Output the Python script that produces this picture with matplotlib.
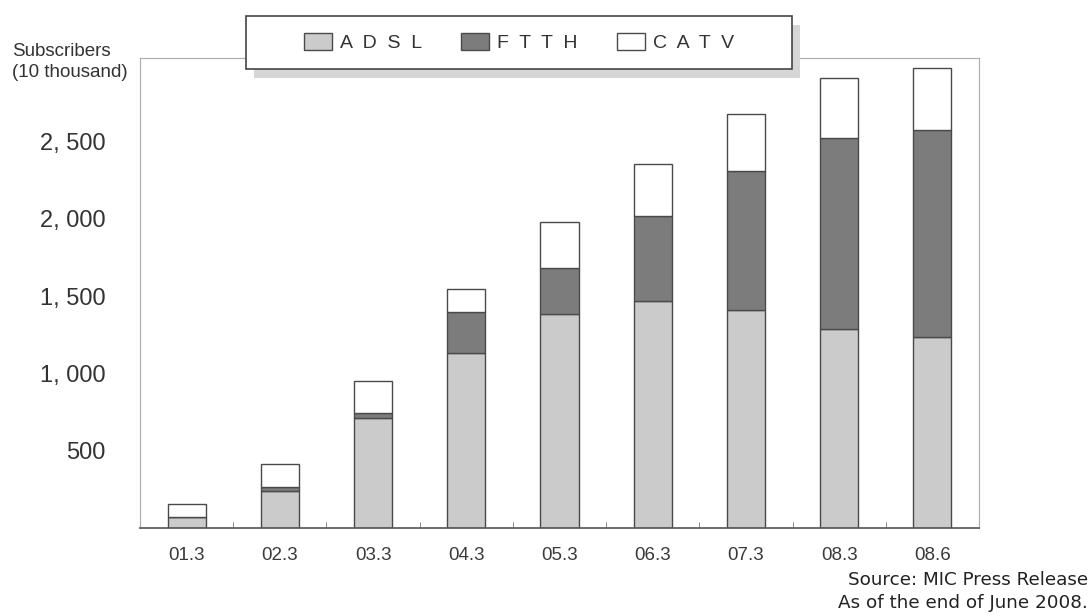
import numpy as np
import matplotlib.pyplot as plt
from matplotlib.patches import Patch, Rectangle
from matplotlib.ticker import FixedLocator, FuncFormatter

# subscribers in units of 10 thousand
periods = ['01.3', '02.3', '03.3', '04.3', '05.3', '06.3', '07.3', '08.3', '08.6']
adsl = [71, 239, 712, 1133, 1385, 1469, 1411, 1288, 1236]
ftth = [0, 26, 32, 265, 298, 550, 900, 1236, 1340]
catv = [84, 149, 207, 149, 298, 337, 369, 389, 401]
yticks = [500, 1000, 1500, 2000, 2500]

W, H = 1091, 616
fig = plt.figure(figsize=(W / 100, H / 100), dpi=100)
ax = fig.add_axes([140 / W, 1 - 528 / H, (979 - 140) / W, (528 - 58) / H])

x = np.arange(len(periods))
adsl_a = np.array(adsl)
ftth_a = np.array(ftth)
width = 0.41
edge = '#4a4a4a'
ax.bar(x, adsl_a, width, color='#cbcbcb', edgecolor=edge, linewidth=1)
ax.bar(x, ftth_a, width, bottom=adsl_a, color='#7c7c7c', edgecolor=edge, linewidth=1)
ax.bar(x, catv, width, bottom=adsl_a + ftth_a, color='white', edgecolor=edge, linewidth=1)

ax.set_xlim(-0.5, len(periods) - 0.5)
ax.set_ylim(0, 3040)

# x axis: labels at bar centres, small inward ticks between categories
ax.set_xticks(x)
ax.set_xticklabels(periods, fontsize=13.5, color='#3a3a3a', family=['Liberation Sans', 'DejaVu Sans'])
ax.xaxis.set_minor_locator(FixedLocator(np.arange(0.5, len(periods) - 0.5, 1)))
ax.tick_params(axis='x', which='major', length=0, pad=14)
ax.tick_params(axis='x', which='minor', direction='in', length=4, color='#777777')

# y axis: labels only, "2, 500" style
ax.yaxis.set_major_locator(FixedLocator(yticks))
ax.yaxis.set_major_formatter(FuncFormatter(lambda v, p: f'{int(v):,}'.replace(',', ', ')))
ax.tick_params(axis='y', length=0, pad=25, labelsize=17, labelcolor='#333333')
for lab in ax.get_yticklabels():
    lab.set_family(['Liberation Sans', 'DejaVu Sans'])

for side in ['left', 'top', 'right']:
    ax.spines[side].set_color('#b0b0b0')
    ax.spines[side].set_linewidth(0.9)
ax.spines['bottom'].set_color('#555555')
ax.spines['bottom'].set_linewidth(1.2)

fig.text(12 / W, 1 - 62 / H, 'Subscribers\n(10 thousand)', fontsize=13.5, color='#333333',
         family=['Liberation Sans', 'DejaVu Sans'], ha='left', va='center', linespacing=1.3)

# legend box with a soft drop shadow
bx0, by0, bx1, by1 = 246, 16, 792, 69
fig.add_artist(Rectangle(((bx0 + 8) / W, 1 - (by1 + 9) / H), (bx1 - bx0) / W, (by1 - by0) / H,
                         transform=fig.transFigure, facecolor='#d6d6d6', edgecolor='none', zorder=3))
fig.add_artist(Rectangle((bx0 / W, 1 - by1 / H), (bx1 - bx0) / W, (by1 - by0) / H,
                         transform=fig.transFigure, facecolor='white', edgecolor='#444444',
                         linewidth=1.2, zorder=4))
handles = [Patch(facecolor='#cbcbcb', edgecolor=edge),
           Patch(facecolor='#7c7c7c', edgecolor=edge),
           Patch(facecolor='white', edgecolor=edge)]
labels = ['A  D  S  L', 'F  T  T  H', 'C  A  T  V']
leg = fig.legend(handles, labels, loc='center', bbox_to_anchor=((bx0 + bx1) / 2 / W, 1 - (by0 + by1) / 2 / H),
                 ncol=3, frameon=False, handlelength=1.45, handleheight=0.95, handletextpad=0.4,
                 columnspacing=2.0, prop={'family': ['Liberation Sans', 'DejaVu Sans'], 'size': 14})
for t in leg.get_texts():
    t.set_color('#333333')
leg.set_zorder(5)

fig.text(1088 / W, 1 - 580 / H, 'Source: MIC Press Release', fontsize=13.2, color='#222222',
         ha='right', va='center', family='DejaVu Sans')
fig.text(1088 / W, 1 - 603 / H, 'As of the end of June 2008.', fontsize=13.2, color='#222222',
         ha='right', va='center', family='DejaVu Sans')

fig.savefig('out.png', dpi=100)
